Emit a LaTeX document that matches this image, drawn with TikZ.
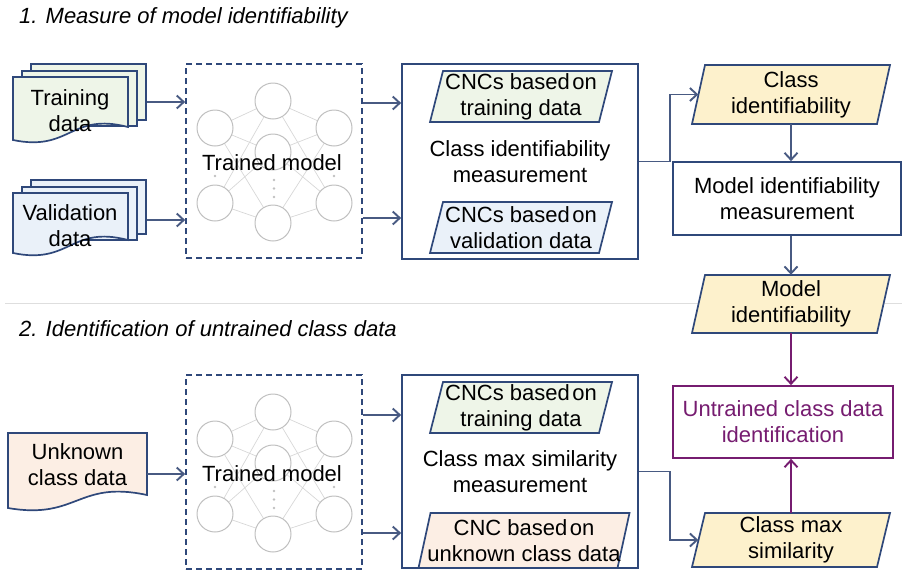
\documentclass[tikz,border=0pt]{standalone}
\usepackage{fontspec}
\setmainfont{Liberation Sans}
\usetikzlibrary{arrows.meta}
\definecolor{nblue}{RGB}{47,72,122}
\definecolor{ablue}{RGB}{72,90,130}
\definecolor{npurp}{RGB}{118,28,112}
\definecolor{fgreen}{RGB}{238,245,232}
\definecolor{fblue}{RGB}{234,241,249}
\definecolor{fyellow}{RGB}{253,241,204}
\definecolor{fpeach}{RGB}{252,238,228}
\definecolor{ngray}{RGB}{192,192,192}
\definecolor{lgray}{RGB}{215,215,215}
\definecolor{sepgray}{RGB}{222,222,222}
\newcommand{\pgram}[8]{%
  \filldraw[shapeline, fill=#7] ({#2-#4/2-#6/2},{#3+#5/2}) -- ({#2-#4/2+#6/2},{#3-#5/2}) -- ({#2+#4/2+#6/2},{#3-#5/2}) -- ({#2+#4/2-#6/2},{#3+#5/2}) -- cycle;
  \node[txt, minimum width=#4pt, minimum height=#5pt] (#1) at (#2,#3) {#8};}
\newcommand{\docshape}[5]{%
  \filldraw[shapeline, fill=#5] (#1,#2) -- (#3,#2) -- (#3,{#4-13}) .. controls ({(#1+#3)/2},{#4-28}) and ({(#1+#3)/2},{#4+12}) .. (#1,#4) -- cycle;}
\newcommand{\nnet}[1]{%
  \foreach \a in {128,203} {\foreach \b in {101,152,223} {
    \draw[nnline] (215,\a+#1) -- (273,\b+#1);
    \draw[nnline] (273,\b+#1) -- (334,\a+#1);}}
  \foreach \a in {128,203} {\filldraw[nncirc] (215,\a+#1) circle[radius=18]; \filldraw[nncirc] (334,\a+#1) circle[radius=18];}
  \foreach \b in {101,152,223} {\filldraw[nncirc] (273,\b+#1) circle[radius=18];}
  \foreach \p in {(215,176+#1),(334,176+#1),(274,180+#1),(274,188.5+#1),(274,197+#1)} {\fill[ngray] \p circle[radius=1.3];}}
\begin{document}
\begin{tikzpicture}[x=1pt,y=-1pt,
  txt/.style={font=\fontsize{22}{26}\selectfont, align=center, inner sep=0pt},
  ttl/.style={font=\fontsize{22}{26}\selectfont\itshape, inner sep=0pt, anchor=west},
  shapeline/.style={draw=nblue, line width=1.7pt},
  box/.style={draw=nblue, line width=1.7pt, fill=white, txt},
  pbox/.style={draw=npurp, line width=1.7pt, fill=white, txt, text=npurp},
  backlayer/.style={draw=nblue, line width=1.7pt, inner sep=0pt},
  dashbox/.style={draw=nblue, line width=1.7pt, dash pattern=on 6pt off 4pt, inner sep=0pt},
  nnline/.style={draw=lgray, line width=0.7pt},
  nncirc/.style={draw=ngray, fill=white, line width=1pt},
  arr/.style={draw=ablue, line width=1.9pt, -{Straight Barb[length=7pt,width=13pt]}},
  parr/.style={draw=npurp, line width=1.9pt, -{Straight Barb[length=7pt,width=13pt]}}]
\useasboundingbox (0,0) rectangle (902,571);

% titles and separator
\node[ttl] (t1) at (19,18) {1. Measure of model identifiability};
\node[ttl] (t2) at (19,329) {2. Identification of untrained class data};
\draw[sepgray, line width=1pt] (5,303) -- (902,303);

% training data stack
\node[backlayer, fill=fgreen, minimum width=115pt, minimum height=56pt] (trainB) at (88.5,92) {};
\node[backlayer, fill=fgreen, minimum width=115pt, minimum height=55pt] (trainM) at (79.5,98.5) {};
\docshape{13}{77}{128}{140}{fgreen}
\node[txt] (train) at (70,111) {Training\\data};

% validation data stack
\node[backlayer, fill=fblue, minimum width=115pt, minimum height=54pt] (validB) at (88.5,207) {};
\node[backlayer, fill=fblue, minimum width=115pt, minimum height=53pt] (validM) at (79.5,213.5) {};
\docshape{13}{193}{128}{253}{fblue}
\node[txt] (valid) at (70,225.5) {Validation\\data};

% unknown class data
\docshape{8}{433}{147}{508}{fpeach}
\node[txt, minimum width=139pt] (unk) at (77.5,465) {Unknown\\class data};

% trained models
\node[dashbox, minimum width=176pt, minimum height=194pt] (nn1) at (274,161) {};
\nnet{0}
\node[txt] (tm1) at (272,163) {Trained model};
\node[dashbox, minimum width=176pt, minimum height=194pt] (nn2) at (274,472) {};
\nnet{311}
\node[txt] (tm2) at (272,474) {Trained model};

% class identifiability measurement
\node[box, minimum width=236pt, minimum height=195pt] (cim) at (520,161.5) {Class identifiability\\measurement};
\pgram{cnct1}{521}{96.5}{169}{51}{13}{fgreen}{CNCs based\hspace{2.5pt}on\\training data}
\pgram{cncv}{521}{227.5}{169}{51}{13}{fblue}{CNCs based\hspace{2.5pt}on\\validation data}

% class max similarity measurement
\node[box, minimum width=236pt, minimum height=193pt] (cmsm) at (520,471.5) {Class max similarity\\measurement};
\pgram{cnct2}{521}{407.5}{169}{51}{13}{fgreen}{CNCs based\hspace{2.5pt}on\\training data}
\pgram{cncu}{524}{540.5}{199}{55}{12}{fpeach}{CNC based\hspace{2.5pt}on\\unknown class data}

% right column
\pgram{ci}{791}{94.5}{185}{59}{13}{fyellow}{Class\\identifiability}
\node[box, minimum width=228pt, minimum height=73pt] (mim) at (787,198.5) {Model identifiability\\measurement};
\pgram{mi}{791}{304}{185}{58}{13}{fyellow}{Model\\identifiability}
\node[pbox, minimum width=220pt, minimum height=72pt] (ucdi) at (783,422) {Untrained class data\\identification};
\pgram{cms}{791}{540}{185}{54}{13}{fyellow}{Class max\\similarity}

% connectors
\path ([yshift=-10pt]trainB.east) coordinate (a1);
\path ([yshift=-13pt]validB.east) coordinate (a2);
\path ([yshift=-9pt]unk.east) coordinate (a3);
\path ([yshift=58pt]nn1.east) coordinate (b1);
\path ([yshift=-57pt]nn1.east) coordinate (b2);
\path ([yshift=57pt]nn2.east) coordinate (b3);
\path ([yshift=-61pt]nn2.east) coordinate (b4);
\draw[arr] (a1) -- (a1 -| nn1.west);
\draw[arr] (a2) -- (a2 -| nn1.west);
\draw[arr] (a3) -- (a3 -| nn2.west);
\draw[arr] (b1) -- (b1 -| cim.west);
\draw[arr] (b2) -- (b2 -| cim.west);
\draw[arr] (b3) -- (b3 -| cmsm.west);
\draw[arr] (b4) -- (b4 -| cmsm.west);
\draw[arr] (cim.east) -- ++(31,0) |- (ci.west);
\draw[arr] (cmsm.east) -- ++(31,0) |- (cms.west);
\draw[arr] (ci.south) -- (ci.south |- mim.north);
\draw[arr] (mim.south -| mi.north) -- (mi.north);
\draw[parr] (mi.south) -- (mi.south |- ucdi.north);
\draw[parr] (cms.north) -- (cms.north |- ucdi.south);
\end{tikzpicture}
\end{document}
